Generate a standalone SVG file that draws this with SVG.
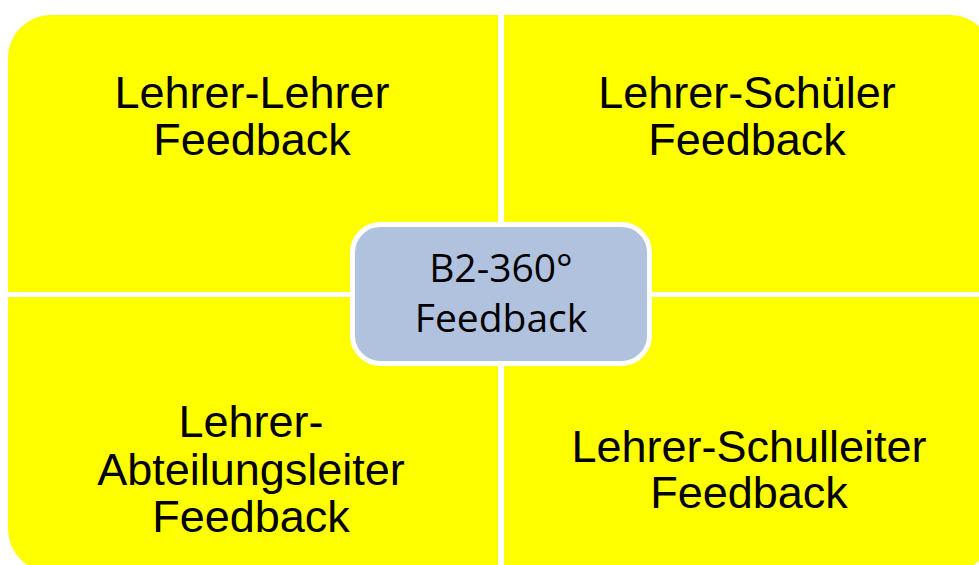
<svg xmlns="http://www.w3.org/2000/svg" width="979" height="565" viewBox="0 0 979 565">
<style>
.q{fill:#FFFF00;}
.qt{font-family:"Liberation Sans",Arial,sans-serif;font-size:45px;fill:#000;text-anchor:middle;}
.ct{font-family:"Open Sans","Noto Sans",sans-serif;font-size:39px;fill:#000;text-anchor:middle;}
</style>
<rect width="979" height="565" fill="#FFFFFF"/>
<g id="q-tl">
<path class="q" d="M8,58 A43,43 0 0 1 51,15 L498,15 L498,292 L8,292 Z"/>
<text class="qt" x="252" y="108">Lehrer-Lehrer</text>
<text class="qt" x="252" y="155">Feedback</text>
</g>
<g id="q-tr">
<path class="q" d="M504,15 L950,15 A43,43 0 0 1 993,58 L993,292 L504,292 Z"/>
<text class="qt" x="747" y="108">Lehrer-Schüler</text>
<text class="qt" x="747" y="155">Feedback</text>
</g>
<g id="q-bl">
<path class="q" d="M8,297 L498,297 L498,572 L51,572 A43,43 0 0 1 8,529 Z"/>
<text class="qt" x="251" y="437">Lehrer-</text>
<text class="qt" x="251" y="485">Abteilungsleiter</text>
<text class="qt" x="251" y="532">Feedback</text>
</g>
<g id="q-br">
<path class="q" d="M504,297 L993,297 L993,529 A43,43 0 0 1 950,572 L504,572 Z"/>
<text class="qt" x="749" y="462">Lehrer-Schulleiter</text>
<text class="qt" x="749" y="508">Feedback</text>
</g>
<g id="center">
<rect x="352.5" y="224.5" width="297" height="139" rx="28" ry="28" fill="#B0C2DE" stroke="#FFFFFF" stroke-width="5"/>
<text class="ct" x="501" y="282">B2-360°</text>
<text class="ct" x="501" y="332">Feedback</text>
</g>
<g id="connectors"></g>
</svg>
